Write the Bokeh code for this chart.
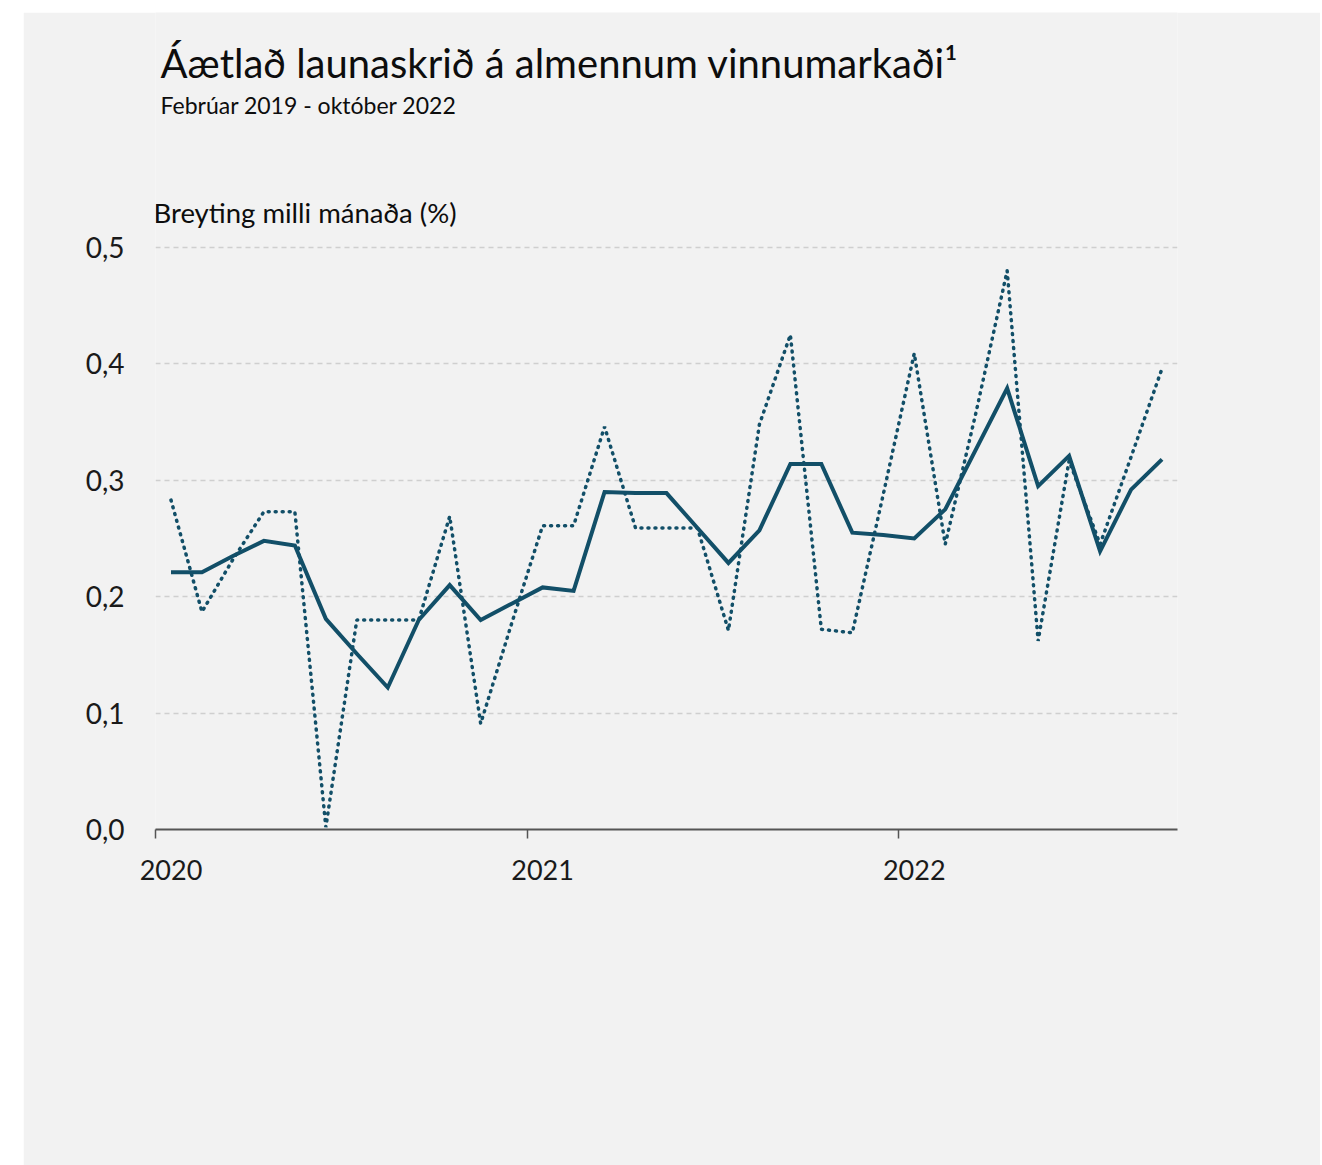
from bokeh.plotting import figure
from bokeh.models import FixedTicker, CustomJSTickFormatter, Label
from bokeh.embed import file_html
from bokeh.resources import INLINE
import numpy as np

# ---- data ----
months = ["2020-01", "2020-02", "2020-03", "2020-04", "2020-05", "2020-06",
          "2020-07", "2020-08", "2020-09", "2020-10", "2020-11", "2020-12",
          "2021-01", "2021-02", "2021-03", "2021-04", "2021-05", "2021-06",
          "2021-07", "2021-08", "2021-09", "2021-10", "2021-11", "2021-12",
          "2022-01", "2022-02", "2022-03", "2022-04", "2022-05", "2022-06",
          "2022-07", "2022-08", "2022-09"]

smoothed = [0.221, 0.221, 0.235, 0.248, 0.244, 0.181, 0.151, 0.122, 0.180, 0.210,
            0.180, 0.194, 0.208, 0.205, 0.290, 0.289, 0.289, 0.259, 0.229, 0.257,
            0.314, 0.314, 0.255, 0.253, 0.250, 0.275, 0.327, 0.379, 0.295, 0.321,
            0.239, 0.292, 0.318]

monthly = [0.283, 0.187, 0.232, 0.273, 0.273, 0.002, 0.180, 0.180, 0.180, 0.269,
           0.091, 0.177, 0.261, 0.261, 0.346, 0.259, 0.259, 0.259, 0.171, 0.348,
           0.425, 0.172, 0.169, 0.288, 0.409, 0.245, 0.359, 0.480, 0.162, 0.317,
           0.245, 0.320, 0.396]

year_labels = ["2020", "2021", "2022"]
y_ticks = [0.0, 0.1, 0.2, 0.3, 0.4, 0.5]

title_text = "Áætlað launaskrið á almennum vinnumarkaði¹"
subtitle_text = "Febrúar 2019 - október 2022"
ylabel_text = "Breyting milli mánaða (%)"

# ---- derived positions ----
x = np.arange(len(months))
year_pos = [months.index(y + "-01") for y in year_labels]
year_bounds = [p - 0.5 for p in year_pos]

FONT = "Lato"
COLOR = "#124f68"
BG = "#f2f2f2"
TXT = "#0d0d0d"

W, H = 1297, 1153
TOP, BOTTOM = 0, 336
PX_PER_UNIT = 1164.0                    # vertical pixels per 1.0 on the value axis
frame_h = H - TOP - BOTTOM
y_end = frame_h / PX_PER_UNIT           # extra head-room above 0,5 holds the titles
px_month = (W - 132 - 143) / len(months)

def y_at(px_above_zero):
    return px_above_zero / PX_PER_UNIT

def x_at(px_right_of_left):
    return -0.5 + px_right_of_left / px_month

p = figure(width=W, height=H, output_backend="svg", toolbar_location=None,
           x_range=(-0.5, len(months) - 0.5), y_range=(0, y_end),
           min_border_left=132, min_border_right=143,
           min_border_top=TOP, min_border_bottom=BOTTOM,
           background_fill_color=BG, border_fill_color=BG,
           outline_line_color=None, margin=(12, 0, 0, 23))

# grid
p.xgrid.visible = False
p.ygrid.ticker = FixedTicker(ticks=y_ticks)
p.ygrid.grid_line_color = "#cfcfcf"
p.ygrid.grid_line_width = 1.5
p.ygrid.grid_line_dash = "5 4"

# y axis
p.yaxis.ticker = FixedTicker(ticks=y_ticks)
p.yaxis.formatter = CustomJSTickFormatter(code="return tick.toFixed(1).replace('.', ',');")
p.yaxis.axis_line_color = None
p.yaxis.major_tick_line_color = None
p.yaxis.minor_tick_line_color = None
p.yaxis.major_label_text_font = FONT
p.yaxis.major_label_text_font_size = "28px"
p.yaxis.major_label_text_color = "#1a1a1a"
p.yaxis.major_label_standoff = 25

# x axis
p.xaxis.ticker = FixedTicker(ticks=year_pos, minor_ticks=year_bounds)
p.xaxis.major_label_overrides = {pos: lab for pos, lab in zip(year_pos, year_labels)}
p.xaxis.axis_line_color = "#555555"
p.xaxis.axis_line_width = 2
p.xaxis.major_tick_line_color = None
p.xaxis.major_tick_out = 0
p.xaxis.major_tick_in = 0
p.xaxis.minor_tick_line_color = "#555555"
p.xaxis.minor_tick_line_width = 1.5
p.xaxis.minor_tick_out = 9
p.xaxis.minor_tick_in = 0
p.xaxis.major_label_text_font = FONT
p.xaxis.major_label_text_font_size = "27px"
p.xaxis.major_label_text_color = "#1a1a1a"
p.xaxis.major_label_standoff = 21

# lines
p.line(x, monthly, line_color=COLOR, line_width=3.5, line_dash="1 6", line_cap="round")
p.line(x, smoothed, line_color=COLOR, line_width=4, line_join="miter")

# titles, placed in the head-room of the plot area
p.add_layout(Label(x=x_at(5), y=y_at(767), text=title_text, text_font=FONT,
                   text_font_size="40px", text_color=TXT, text_baseline="alphabetic"))
p.add_layout(Label(x=x_at(5), y=y_at(725), text=subtitle_text, text_font=FONT,
                   text_font_size="23px", text_color=TXT, text_baseline="alphabetic"))
p.add_layout(Label(x=x_at(-2), y=y_at(617), text=ylabel_text, text_font=FONT,
                   text_font_size="27.5px", text_color=TXT, text_baseline="alphabetic"))

open("out.html", "w").write(file_html(p, INLINE))
